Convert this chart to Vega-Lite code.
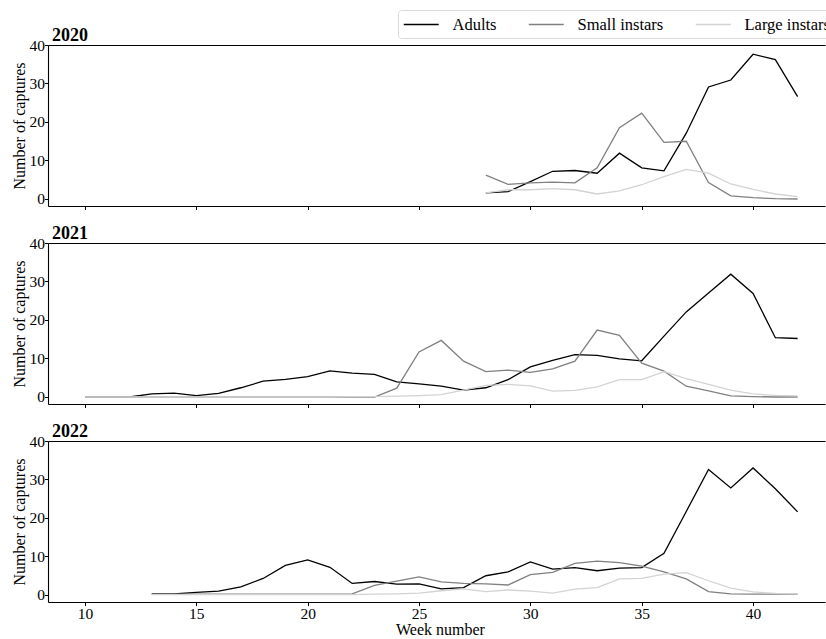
{
  "$schema": "https://vega.github.io/schema/vega-lite/v6.json",
  "autosize": {"type": "pad"},
  "bounds": "flush",
  "padding": {"left": 11, "top": 9, "right": 0, "bottom": 0},
  "background": "white",
  "config": {
    "font": "Liberation Serif",
    "view": {"stroke": null},
    "axis": {"labelFont": "Liberation Serif", "labelFontSize": 15.5, "labelColor": "#000", "titleFont": "Liberation Serif", "titleFontSize": 16, "titleFontWeight": "normal", "titleColor": "#000", "domainColor": "#000", "tickColor": "#000", "tickSize": 3.5, "grid": false, "domainWidth": 1.1, "tickWidth": 1},
    "title": {"font": "Liberation Serif", "fontSize": 18, "fontWeight": "bold", "anchor": "start", "frame": "group", "offset": -7, "color": "#000", "dx": 4},
    "concat": {"spacing": 37},
    "legend": {"labelFont": "Liberation Serif", "labelFontSize": 16.5, "labelColor": "#000"}
  },
  "data": {"values": [
    {"year":2020,"week":28,"stage":"Adults","n":1.6},{"year":2020,"week":29,"stage":"Adults","n":1.9},{"year":2020,"week":30,"stage":"Adults","n":4.5},{"year":2020,"week":31,"stage":"Adults","n":7.2},{"year":2020,"week":32,"stage":"Adults","n":7.4},{"year":2020,"week":33,"stage":"Adults","n":6.7},{"year":2020,"week":34,"stage":"Adults","n":11.9},{"year":2020,"week":35,"stage":"Adults","n":8.1},{"year":2020,"week":36,"stage":"Adults","n":7.3},{"year":2020,"week":37,"stage":"Adults","n":17.1},{"year":2020,"week":38,"stage":"Adults","n":29.1},{"year":2020,"week":39,"stage":"Adults","n":30.9},{"year":2020,"week":40,"stage":"Adults","n":37.6},{"year":2020,"week":41,"stage":"Adults","n":36.2},{"year":2020,"week":42,"stage":"Adults","n":26.6},
    {"year":2020,"week":28,"stage":"Small instars","n":6.2},{"year":2020,"week":29,"stage":"Small instars","n":3.8},{"year":2020,"week":30,"stage":"Small instars","n":4.2},{"year":2020,"week":31,"stage":"Small instars","n":4.4},{"year":2020,"week":32,"stage":"Small instars","n":4.2},{"year":2020,"week":33,"stage":"Small instars","n":8.1},{"year":2020,"week":34,"stage":"Small instars","n":18.5},{"year":2020,"week":35,"stage":"Small instars","n":22.3},{"year":2020,"week":36,"stage":"Small instars","n":14.7},{"year":2020,"week":37,"stage":"Small instars","n":15.0},{"year":2020,"week":38,"stage":"Small instars","n":4.3},{"year":2020,"week":39,"stage":"Small instars","n":0.8},{"year":2020,"week":40,"stage":"Small instars","n":0.35},{"year":2020,"week":41,"stage":"Small instars","n":0.1},{"year":2020,"week":42,"stage":"Small instars","n":0.0},
    {"year":2020,"week":28,"stage":"Large instars","n":1.6},{"year":2020,"week":29,"stage":"Large instars","n":2.4},{"year":2020,"week":30,"stage":"Large instars","n":2.4},{"year":2020,"week":31,"stage":"Large instars","n":2.7},{"year":2020,"week":32,"stage":"Large instars","n":2.4},{"year":2020,"week":33,"stage":"Large instars","n":1.3},{"year":2020,"week":34,"stage":"Large instars","n":2.1},{"year":2020,"week":35,"stage":"Large instars","n":3.7},{"year":2020,"week":36,"stage":"Large instars","n":5.8},{"year":2020,"week":37,"stage":"Large instars","n":7.7},{"year":2020,"week":38,"stage":"Large instars","n":6.7},{"year":2020,"week":39,"stage":"Large instars","n":3.9},{"year":2020,"week":40,"stage":"Large instars","n":2.5},{"year":2020,"week":41,"stage":"Large instars","n":1.3},{"year":2020,"week":42,"stage":"Large instars","n":0.6},

    {"year":2021,"week":10,"stage":"Adults","n":0},{"year":2021,"week":11,"stage":"Adults","n":0},{"year":2021,"week":12,"stage":"Adults","n":0},{"year":2021,"week":13,"stage":"Adults","n":0.8},{"year":2021,"week":14,"stage":"Adults","n":1.0},{"year":2021,"week":15,"stage":"Adults","n":0.35},{"year":2021,"week":16,"stage":"Adults","n":0.95},{"year":2021,"week":17,"stage":"Adults","n":2.4},{"year":2021,"week":18,"stage":"Adults","n":4.1},{"year":2021,"week":19,"stage":"Adults","n":4.6},{"year":2021,"week":20,"stage":"Adults","n":5.3},{"year":2021,"week":21,"stage":"Adults","n":6.8},{"year":2021,"week":22,"stage":"Adults","n":6.2},{"year":2021,"week":23,"stage":"Adults","n":5.9},{"year":2021,"week":24,"stage":"Adults","n":3.9},{"year":2021,"week":25,"stage":"Adults","n":3.4},{"year":2021,"week":26,"stage":"Adults","n":2.8},{"year":2021,"week":27,"stage":"Adults","n":1.8},{"year":2021,"week":28,"stage":"Adults","n":2.4},{"year":2021,"week":29,"stage":"Adults","n":4.5},{"year":2021,"week":30,"stage":"Adults","n":7.8},{"year":2021,"week":31,"stage":"Adults","n":9.5},{"year":2021,"week":32,"stage":"Adults","n":11.0},{"year":2021,"week":33,"stage":"Adults","n":10.8},{"year":2021,"week":34,"stage":"Adults","n":9.9},{"year":2021,"week":35,"stage":"Adults","n":9.4},{"year":2021,"week":36,"stage":"Adults","n":15.8},{"year":2021,"week":37,"stage":"Adults","n":22.1},{"year":2021,"week":38,"stage":"Adults","n":27.0},{"year":2021,"week":39,"stage":"Adults","n":31.9},{"year":2021,"week":40,"stage":"Adults","n":26.9},{"year":2021,"week":41,"stage":"Adults","n":15.4},{"year":2021,"week":42,"stage":"Adults","n":15.2},
    {"year":2021,"week":10,"stage":"Small instars","n":0},{"year":2021,"week":11,"stage":"Small instars","n":0},{"year":2021,"week":12,"stage":"Small instars","n":0},{"year":2021,"week":13,"stage":"Small instars","n":0},{"year":2021,"week":14,"stage":"Small instars","n":0},{"year":2021,"week":15,"stage":"Small instars","n":0},{"year":2021,"week":16,"stage":"Small instars","n":0},{"year":2021,"week":17,"stage":"Small instars","n":0},{"year":2021,"week":18,"stage":"Small instars","n":0},{"year":2021,"week":19,"stage":"Small instars","n":0},{"year":2021,"week":20,"stage":"Small instars","n":0},{"year":2021,"week":21,"stage":"Small instars","n":0},{"year":2021,"week":22,"stage":"Small instars","n":0},{"year":2021,"week":23,"stage":"Small instars","n":0},{"year":2021,"week":24,"stage":"Small instars","n":2.3},{"year":2021,"week":25,"stage":"Small instars","n":11.7},{"year":2021,"week":26,"stage":"Small instars","n":14.7},{"year":2021,"week":27,"stage":"Small instars","n":9.3},{"year":2021,"week":28,"stage":"Small instars","n":6.6},{"year":2021,"week":29,"stage":"Small instars","n":7.0},{"year":2021,"week":30,"stage":"Small instars","n":6.4},{"year":2021,"week":31,"stage":"Small instars","n":7.3},{"year":2021,"week":32,"stage":"Small instars","n":9.3},{"year":2021,"week":33,"stage":"Small instars","n":17.4},{"year":2021,"week":34,"stage":"Small instars","n":16.0},{"year":2021,"week":35,"stage":"Small instars","n":8.8},{"year":2021,"week":36,"stage":"Small instars","n":6.7},{"year":2021,"week":37,"stage":"Small instars","n":2.8},{"year":2021,"week":38,"stage":"Small instars","n":1.6},{"year":2021,"week":39,"stage":"Small instars","n":0.3},{"year":2021,"week":40,"stage":"Small instars","n":0.1},{"year":2021,"week":41,"stage":"Small instars","n":0},{"year":2021,"week":42,"stage":"Small instars","n":0},
    {"year":2021,"week":10,"stage":"Large instars","n":0},{"year":2021,"week":11,"stage":"Large instars","n":0},{"year":2021,"week":12,"stage":"Large instars","n":0},{"year":2021,"week":13,"stage":"Large instars","n":0},{"year":2021,"week":14,"stage":"Large instars","n":0},{"year":2021,"week":15,"stage":"Large instars","n":0},{"year":2021,"week":16,"stage":"Large instars","n":0},{"year":2021,"week":17,"stage":"Large instars","n":0},{"year":2021,"week":18,"stage":"Large instars","n":0},{"year":2021,"week":19,"stage":"Large instars","n":0},{"year":2021,"week":20,"stage":"Large instars","n":0},{"year":2021,"week":21,"stage":"Large instars","n":0},{"year":2021,"week":22,"stage":"Large instars","n":0.1},{"year":2021,"week":23,"stage":"Large instars","n":0.1},{"year":2021,"week":24,"stage":"Large instars","n":0.2},{"year":2021,"week":25,"stage":"Large instars","n":0.35},{"year":2021,"week":26,"stage":"Large instars","n":0.6},{"year":2021,"week":27,"stage":"Large instars","n":1.8},{"year":2021,"week":28,"stage":"Large instars","n":3.0},{"year":2021,"week":29,"stage":"Large instars","n":3.3},{"year":2021,"week":30,"stage":"Large instars","n":2.9},{"year":2021,"week":31,"stage":"Large instars","n":1.5},{"year":2021,"week":32,"stage":"Large instars","n":1.7},{"year":2021,"week":33,"stage":"Large instars","n":2.6},{"year":2021,"week":34,"stage":"Large instars","n":4.5},{"year":2021,"week":35,"stage":"Large instars","n":4.5},{"year":2021,"week":36,"stage":"Large instars","n":6.6},{"year":2021,"week":37,"stage":"Large instars","n":4.8},{"year":2021,"week":38,"stage":"Large instars","n":3.3},{"year":2021,"week":39,"stage":"Large instars","n":1.8},{"year":2021,"week":40,"stage":"Large instars","n":0.8},{"year":2021,"week":41,"stage":"Large instars","n":0.4},{"year":2021,"week":42,"stage":"Large instars","n":0.3},

    {"year":2022,"week":13,"stage":"Adults","n":0.3},{"year":2022,"week":14,"stage":"Adults","n":0.3},{"year":2022,"week":15,"stage":"Adults","n":0.7},{"year":2022,"week":16,"stage":"Adults","n":1.0},{"year":2022,"week":17,"stage":"Adults","n":2.1},{"year":2022,"week":18,"stage":"Adults","n":4.3},{"year":2022,"week":19,"stage":"Adults","n":7.7},{"year":2022,"week":20,"stage":"Adults","n":9.1},{"year":2022,"week":21,"stage":"Adults","n":7.2},{"year":2022,"week":22,"stage":"Adults","n":3.0},{"year":2022,"week":23,"stage":"Adults","n":3.5},{"year":2022,"week":24,"stage":"Adults","n":2.8},{"year":2022,"week":25,"stage":"Adults","n":2.9},{"year":2022,"week":26,"stage":"Adults","n":1.6},{"year":2022,"week":27,"stage":"Adults","n":1.9},{"year":2022,"week":28,"stage":"Adults","n":5.0},{"year":2022,"week":29,"stage":"Adults","n":6.0},{"year":2022,"week":30,"stage":"Adults","n":8.6},{"year":2022,"week":31,"stage":"Adults","n":6.7},{"year":2022,"week":32,"stage":"Adults","n":7.1},{"year":2022,"week":33,"stage":"Adults","n":6.3},{"year":2022,"week":34,"stage":"Adults","n":7.0},{"year":2022,"week":35,"stage":"Adults","n":7.1},{"year":2022,"week":36,"stage":"Adults","n":10.8},{"year":2022,"week":37,"stage":"Adults","n":21.7},{"year":2022,"week":38,"stage":"Adults","n":32.6},{"year":2022,"week":39,"stage":"Adults","n":27.8},{"year":2022,"week":40,"stage":"Adults","n":33.0},{"year":2022,"week":41,"stage":"Adults","n":27.6},{"year":2022,"week":42,"stage":"Adults","n":21.6},
    {"year":2022,"week":13,"stage":"Small instars","n":0.2},{"year":2022,"week":14,"stage":"Small instars","n":0.2},{"year":2022,"week":15,"stage":"Small instars","n":0.2},{"year":2022,"week":16,"stage":"Small instars","n":0.2},{"year":2022,"week":17,"stage":"Small instars","n":0.2},{"year":2022,"week":18,"stage":"Small instars","n":0.2},{"year":2022,"week":19,"stage":"Small instars","n":0.2},{"year":2022,"week":20,"stage":"Small instars","n":0.2},{"year":2022,"week":21,"stage":"Small instars","n":0.2},{"year":2022,"week":22,"stage":"Small instars","n":0.3},{"year":2022,"week":23,"stage":"Small instars","n":2.5},{"year":2022,"week":24,"stage":"Small instars","n":3.6},{"year":2022,"week":25,"stage":"Small instars","n":4.7},{"year":2022,"week":26,"stage":"Small instars","n":3.4},{"year":2022,"week":27,"stage":"Small instars","n":3.0},{"year":2022,"week":28,"stage":"Small instars","n":2.9},{"year":2022,"week":29,"stage":"Small instars","n":2.6},{"year":2022,"week":30,"stage":"Small instars","n":5.3},{"year":2022,"week":31,"stage":"Small instars","n":5.9},{"year":2022,"week":32,"stage":"Small instars","n":8.2},{"year":2022,"week":33,"stage":"Small instars","n":8.8},{"year":2022,"week":34,"stage":"Small instars","n":8.4},{"year":2022,"week":35,"stage":"Small instars","n":7.5},{"year":2022,"week":36,"stage":"Small instars","n":6.0},{"year":2022,"week":37,"stage":"Small instars","n":4.2},{"year":2022,"week":38,"stage":"Small instars","n":0.9},{"year":2022,"week":39,"stage":"Small instars","n":0.3},{"year":2022,"week":40,"stage":"Small instars","n":0.2},{"year":2022,"week":41,"stage":"Small instars","n":0.2},{"year":2022,"week":42,"stage":"Small instars","n":0.2},
    {"year":2022,"week":13,"stage":"Large instars","n":0.1},{"year":2022,"week":14,"stage":"Large instars","n":0.1},{"year":2022,"week":15,"stage":"Large instars","n":0.1},{"year":2022,"week":16,"stage":"Large instars","n":0.1},{"year":2022,"week":17,"stage":"Large instars","n":0.1},{"year":2022,"week":18,"stage":"Large instars","n":0.1},{"year":2022,"week":19,"stage":"Large instars","n":0.1},{"year":2022,"week":20,"stage":"Large instars","n":0.1},{"year":2022,"week":21,"stage":"Large instars","n":0.1},{"year":2022,"week":22,"stage":"Large instars","n":0.1},{"year":2022,"week":23,"stage":"Large instars","n":0.2},{"year":2022,"week":24,"stage":"Large instars","n":0.3},{"year":2022,"week":25,"stage":"Large instars","n":0.5},{"year":2022,"week":26,"stage":"Large instars","n":1.1},{"year":2022,"week":27,"stage":"Large instars","n":1.6},{"year":2022,"week":28,"stage":"Large instars","n":0.9},{"year":2022,"week":29,"stage":"Large instars","n":1.3},{"year":2022,"week":30,"stage":"Large instars","n":1.0},{"year":2022,"week":31,"stage":"Large instars","n":0.5},{"year":2022,"week":32,"stage":"Large instars","n":1.5},{"year":2022,"week":33,"stage":"Large instars","n":1.9},{"year":2022,"week":34,"stage":"Large instars","n":4.2},{"year":2022,"week":35,"stage":"Large instars","n":4.3},{"year":2022,"week":36,"stage":"Large instars","n":5.4},{"year":2022,"week":37,"stage":"Large instars","n":5.8},{"year":2022,"week":38,"stage":"Large instars","n":3.7},{"year":2022,"week":39,"stage":"Large instars","n":1.8},{"year":2022,"week":40,"stage":"Large instars","n":0.8},{"year":2022,"week":41,"stage":"Large instars","n":0.4},{"year":2022,"week":42,"stage":"Large instars","n":0.3}
  ]},
  "resolve": {"scale": {"color": "shared"}},
  "vconcat": [
    {
      "title": "2020",
      "width": 777, "height": 161,
      "transform": [{"filter": "datum.year == 2020"}],
      "resolve": {"axis": {"x": "independent"}},
      "layer": [
        {
          "mark": {"type": "line", "strokeWidth": 1.3},
          "encoding": {
            "x": {"field": "week", "type": "quantitative", "scale": {"domain": [8.34, 43.23], "nice": false, "zero": false}, "axis": {"values": [10,15,20,25,30,35,40], "labels": false, "title": null}},
            "y": {"field": "n", "type": "quantitative", "scale": {"domain": [-1.82, 40], "nice": false, "zero": false}, "axis": {"values": [0,10,20,30,40], "title": "Number of captures", "labelPadding": 0, "titlePadding": 2}},
            "color": {"field": "stage", "type": "nominal", "sort": ["Adults", "Small instars", "Large instars"], "scale": {"domain": ["Adults", "Small instars", "Large instars"], "range": ["#000000", "#808080", "#d3d3d3"]},
              "legend": {"orient": "none", "legendX": 350, "legendY": -35, "direction": "horizontal", "columns": 3, "title": null, "symbolType": "M-2,0H2", "symbolSize": 306, "symbolOffset": 8.75, "symbolStrokeWidth": 1.3, "labelOffset": 21.75, "columnPadding": 29, "padding": 5, "strokeColor": "#d9d9d9", "cornerRadius": 3, "fillColor": "white"}}
          }
        },
        {
          "mark": {"type": "point", "opacity": 0},
          "encoding": {
            "x": {"field": "week", "type": "quantitative", "scale": {"domain": [8.34, 43.23], "nice": false, "zero": false}, "axis": {"orient": "top", "labels": false, "ticks": false, "title": null}}
          }
        }
      ]
    },
    {
      "title": "2021",
      "width": 777, "height": 161,
      "transform": [{"filter": "datum.year == 2021"}],
      "resolve": {"axis": {"x": "independent"}},
      "layer": [
        {
          "mark": {"type": "line", "strokeWidth": 1.3},
          "encoding": {
            "x": {"field": "week", "type": "quantitative", "scale": {"domain": [8.34, 43.23], "nice": false, "zero": false}, "axis": {"values": [10,15,20,25,30,35,40], "labels": false, "title": null}},
            "y": {"field": "n", "type": "quantitative", "scale": {"domain": [-1.82, 40], "nice": false, "zero": false}, "axis": {"values": [0,10,20,30,40], "title": "Number of captures", "labelPadding": 0, "titlePadding": 2}},
            "color": {"field": "stage", "type": "nominal", "sort": ["Adults", "Small instars", "Large instars"], "scale": {"domain": ["Adults", "Small instars", "Large instars"], "range": ["#000000", "#808080", "#d3d3d3"]}}
          }
        },
        {
          "mark": {"type": "point", "opacity": 0},
          "encoding": {
            "x": {"field": "week", "type": "quantitative", "scale": {"domain": [8.34, 43.23], "nice": false, "zero": false}, "axis": {"orient": "top", "labels": false, "ticks": false, "title": null}}
          }
        }
      ]
    },
    {
      "title": "2022",
      "width": 777, "height": 161,
      "transform": [{"filter": "datum.year == 2022"}],
      "resolve": {"axis": {"x": "independent"}},
      "layer": [
        {
          "mark": {"type": "line", "strokeWidth": 1.3},
          "encoding": {
            "x": {"field": "week", "type": "quantitative", "scale": {"domain": [8.34, 43.23], "nice": false, "zero": false}, "axis": {"values": [10,15,20,25,30,35,40], "title": "Week number", "titleX": 392, "labelPadding": 1, "titlePadding": -1}},
            "y": {"field": "n", "type": "quantitative", "scale": {"domain": [-1.82, 40], "nice": false, "zero": false}, "axis": {"values": [0,10,20,30,40], "title": "Number of captures", "labelPadding": 0, "titlePadding": 2}},
            "color": {"field": "stage", "type": "nominal", "sort": ["Adults", "Small instars", "Large instars"], "scale": {"domain": ["Adults", "Small instars", "Large instars"], "range": ["#000000", "#808080", "#d3d3d3"]}}
          }
        },
        {
          "mark": {"type": "point", "opacity": 0},
          "encoding": {
            "x": {"field": "week", "type": "quantitative", "scale": {"domain": [8.34, 43.23], "nice": false, "zero": false}, "axis": {"orient": "top", "labels": false, "ticks": false, "title": null}}
          }
        }
      ]
    }
  ]
}
